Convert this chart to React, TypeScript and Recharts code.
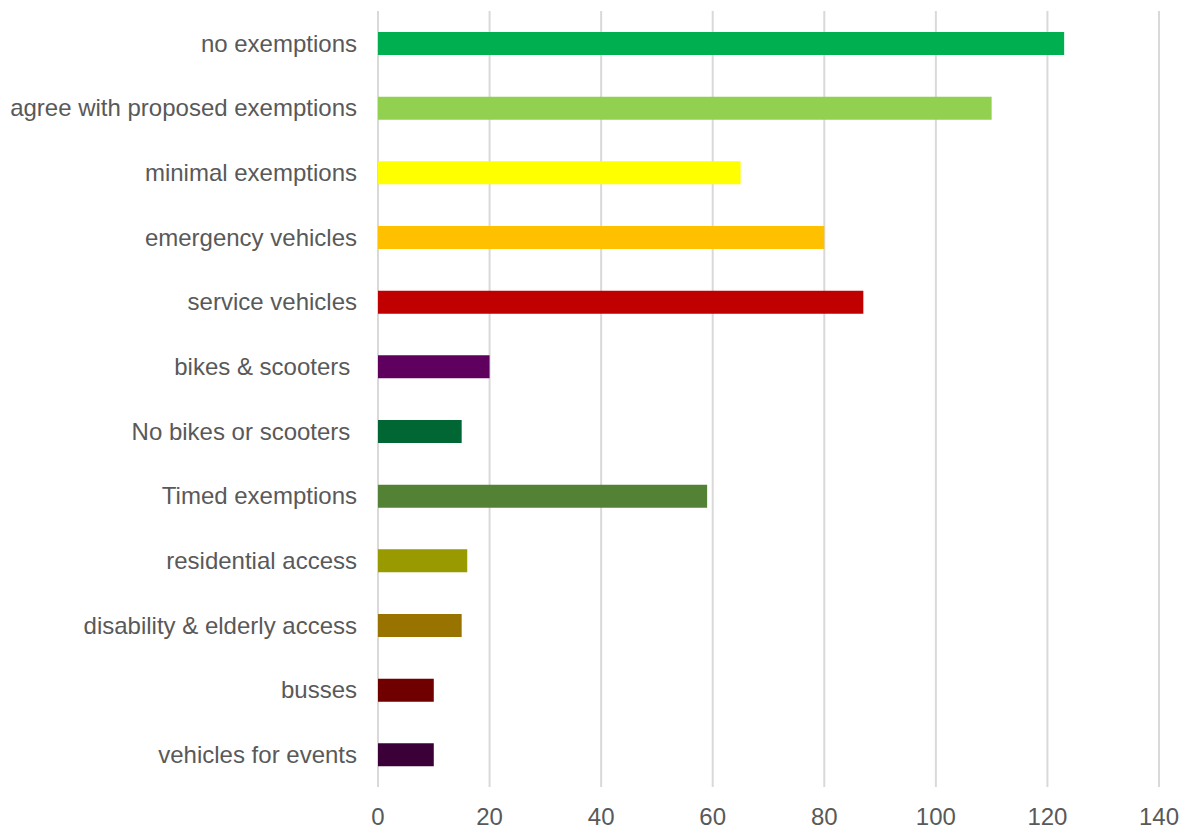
import React from 'react';
import { BarChart, Bar, XAxis, YAxis, CartesianGrid, Cell } from 'recharts';

const categories = [
  'no exemptions',
  'agree with proposed exemptions',
  'minimal exemptions',
  'emergency vehicles',
  'service vehicles',
  'bikes & scooters ',
  'No bikes or scooters ',
  'Timed exemptions',
  'residential access',
  'disability & elderly access',
  'busses',
  'vehicles for events',
];

const counts = [123, 110, 65, 80, 87, 20, 15, 59, 16, 15, 10, 10];

const barColors = [
  '#00B050', '#92D050', '#FFFF00', '#FFC000', '#C00000', '#5F005F',
  '#006633', '#548235', '#999900', '#997300', '#700000', '#3C0038',
];

const xTicks = [0, 20, 40, 60, 80, 100, 120, 140];

const data = categories.map((name, i) => ({ name, value: counts[i] }));

const FONT = '"Liberation Sans", Arial, sans-serif';
const TEXT = '#595959';

const CategoryTick = ({ x, y, payload }: any) => (
  <text
    x={x}
    y={y}
    dy="0.35em"
    textAnchor="end"
    fill={TEXT}
    fontSize={24}
    fontFamily={FONT}
    style={{ whiteSpace: 'pre' }}
  >
    {payload.value}
  </text>
);

export default function App() {
  return (
    <div style={{ position: 'absolute', left: 0, top: 0, background: '#fff' }}>
      <BarChart
        width={1188}
        height={825}
        data={data}
        layout="vertical"
        margin={{ top: 11, right: 29, bottom: 8, left: 0 }}
      >
        <CartesianGrid horizontal={false} stroke="#d9d9d9" strokeWidth={2} />
        <XAxis
          type="number"
          domain={[0, 140]}
          ticks={xTicks}
          height={30}
          axisLine={false}
          tickLine={false}
          tickSize={0}
          tickMargin={21}
          tick={{ fill: TEXT, fontSize: 24, fontFamily: FONT }}
          interval={0}
        />
        <YAxis
          type="category"
          dataKey="name"
          width={378}
          axisLine={false}
          tickLine={false}
          tickSize={0}
          tickMargin={21}
          tick={<CategoryTick />}
          interval={0}
        />
        <Bar dataKey="value" barSize={23} isAnimationActive={false}>
          {data.map((d, i) => (
            <Cell key={d.name} fill={barColors[i]} />
          ))}
        </Bar>
      </BarChart>
    </div>
  );
}
